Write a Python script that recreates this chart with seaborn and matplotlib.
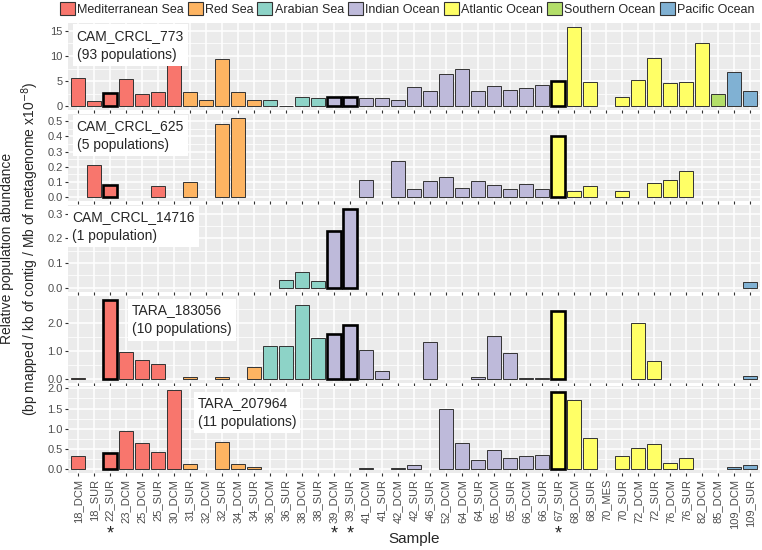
import numpy as np
import pandas as pd
import matplotlib
matplotlib.use("Agg")
import matplotlib.pyplot as plt
import matplotlib.transforms as mtransforms
from matplotlib.patches import Patch
from matplotlib.ticker import MultipleLocator, FormatStrFormatter
import seaborn as sns

# Données
samples = ['18_DCM', '18_SUR', '22_SUR', '23_DCM', '25_DCM', '25_SUR', '30_DCM',
           '31_SUR', '32_DCM', '32_SUR', '34_DCM', '34_SUR',
           '36_DCM', '36_SUR', '38_DCM', '38_SUR',
           '39_DCM', '39_SUR', '41_DCM', '41_SUR', '42_DCM', '42_SUR', '46_SUR',
           '52_DCM', '64_DCM', '64_SUR', '65_DCM', '65_SUR', '66_DCM', '66_SUR',
           '67_SUR', '68_DCM', '68_SUR', '70_MES', '70_SUR', '72_DCM', '72_SUR',
           '76_DCM', '76_SUR', '82_DCM',
           '85_DCM',
           '109_DCM', '109_SUR']
sample_region = (['Mediterranean Sea'] * 7 + ['Red Sea'] * 5 + ['Arabian Sea'] * 4
                 + ['Indian Ocean'] * 14 + ['Atlantic Ocean'] * 10
                 + ['Southern Ocean'] + ['Pacific Ocean'] * 2)
regions = ['Mediterranean Sea', 'Red Sea', 'Arabian Sea', 'Indian Ocean',
           'Atlantic Ocean', 'Southern Ocean', 'Pacific Ocean']
region_colors = ['#F8766D', '#FDB462', '#8DD3C7', '#BEBADA', '#FFFF66', '#B3DE69', '#80B1D3']
starred = ['22_SUR', '39_DCM', '39_SUR', '67_SUR']

N = None
crcl_773 = [5.7, 1.0, 2.6, 5.5, 2.5, 2.8, 8.2,
            2.8, 1.2, 9.5, 2.9, 1.3,
            1.25, 0.1, 1.9, 1.7,
            1.9, 1.9, 1.7, 1.7, 1.2, 3.75, 3.0, 6.4, 7.5, 3.0, 4.0, 3.2, 3.7, 4.2,
            5.1, 15.7, 4.9, N, 1.8, 5.2, 9.6, 4.6, 4.8, 12.6,
            2.4,
            6.9, 3.0]
crcl_625 = [N, 0.21, 0.08, N, N, 0.073, N,
            0.098, N, 0.48, 0.52, N,
            N, N, N, N,
            N, N, 0.11, N, 0.24, 0.052, 0.105, 0.135, 0.063, 0.105, 0.08, 0.05, 0.085, 0.055,
            0.40, 0.04, 0.074, N, 0.039, N, 0.092, 0.11, 0.17, N,
            N,
            N, N]
crcl_14716 = [N, N, N, N, N, N, N,
              N, N, N, N, N,
              N, 0.03, 0.065, 0.028,
              0.23, 0.32, N, N, N, N, N, N, N, N, N, N, N, N,
              N, N, N, N, N, N, N, N, N, N,
              N,
              N, 0.025]
tara_183056 = [0.03, N, 2.82, 0.94, 0.68, 0.52, N,
               0.04, N, 0.07, N, 0.40,
               1.17, 1.17, 2.64, 1.46,
               1.58, 1.92, 1.02, 0.26, N, N, 1.29, N, N, 0.07, 1.51, 0.92, 0.03, 0.03,
               2.40, N, N, N, N, 1.99, 0.62, N, N, N,
               N,
               N, 0.1]
tara_207964 = [0.33, N, 0.40, 0.94, 0.64, 0.42, 1.95,
               0.13, N, 0.68, 0.14, 0.066,
               N, N, N, N,
               N, N, 0.03, N, 0.03, 0.1, N, 1.48, 0.66, 0.22, 0.47, 0.28, 0.32, 0.36,
               1.91, 1.72, 0.78, N, 0.32, 0.53, 0.62, 0.16, 0.27, N,
               N,
               0.066, 0.1]

panel_labels = ['CAM_CRCL_773\n(93 populations)', 'CAM_CRCL_625\n(5 populations)',
                'CAM_CRCL_14716\n(1 population)', 'TARA_183056\n(10 populations)',
                'TARA_207964\n(11 populations)']
panel_values = [crcl_773, crcl_625, crcl_14716, tara_183056, tara_207964]
major_steps = [5, 0.1, 0.1, 1.0, 0.5]
tick_fmt = ['%d', '%.1f', '%.1f', '%.1f', '%.1f']
label_pos = [(0.012, 0.94), (0.012, 0.94), (0.005, 0.94), (0.092, 0.91), (0.187, 0.89)]

# Style proche de ggplot
sns.set_style('darkgrid', {'axes.facecolor': '#EBEBEB', 'grid.color': 'white'})
plt.rcParams['font.family'] = ['Liberation Sans', 'DejaVu Sans']

fig, axes = plt.subplots(5, 1, figsize=(7.62, 5.5), dpi=100, sharex=True)
fig.subplots_adjust(left=0.0898, right=0.9969, top=0.9575, bottom=0.1395, hspace=0.044)

for ax, vals, lab, step, fmt, pos in zip(axes, panel_values, panel_labels,
                                         major_steps, tick_fmt, label_pos):
    df = pd.DataFrame({'sample': samples, 'region': sample_region,
                       'value': [np.nan if v is None else v for v in vals]})
    sns.barplot(data=df, x='sample', y='value', hue='region', order=samples,
                hue_order=regions, palette=region_colors, dodge=False, width=0.9,
                saturation=1, errorbar=None, edgecolor='#333333', linewidth=0.7,
                legend=False, ax=ax)
    # contours épais pour les échantillons marqués
    for p in ax.patches:
        i = int(round(p.get_x() + p.get_width() / 2))
        if 0 <= i < len(samples) and samples[i] in starred:
            p.set_edgecolor('black')
            p.set_linewidth(1.9)
    vmax = np.nanmax(df['value'])
    ax.set_ylim(-0.05 * vmax, 1.05 * vmax)
    ax.set_xlim(-0.6, len(samples) - 0.4)
    ax.yaxis.set_major_locator(MultipleLocator(step))
    ax.yaxis.set_minor_locator(MultipleLocator(step / 2))
    ax.yaxis.set_major_formatter(FormatStrFormatter(fmt))
    ax.grid(which='major', color='white', linewidth=1.1)
    ax.grid(which='minor', axis='y', color='white', linewidth=0.55)
    ax.set_axisbelow(True)
    ax.set_xlabel('')
    ax.set_ylabel('')
    ax.tick_params(axis='y', labelsize=8, labelcolor='#4D4D4D', length=2.5,
                   color='#333333', pad=1.5, left=True)
    ax.tick_params(axis='x', labelsize=8, labelcolor='#4D4D4D', length=2.5,
                   color='#333333', pad=1.5, bottom=True)
    for s in ax.spines.values():
        s.set_visible(False)
    ax.text(pos[0], pos[1], lab, transform=ax.transAxes, ha='left', va='top',
            fontsize=10, linespacing=1.45,
            bbox=dict(boxstyle='square,pad=0.3', facecolor='white', edgecolor='none'))

axes[-1].set_xticks(range(len(samples)))
axes[-1].set_xticklabels(samples, rotation=90)

# astérisques sous les échantillons marqués
trans = mtransforms.blended_transform_factory(axes[-1].transData, axes[-1].transAxes)
for s in starred:
    axes[-1].text(samples.index(s), -0.7, '*', transform=trans, ha='center',
                  va='center', fontsize=13, clip_on=False)

fig.text(0.543, 0.02, 'Sample', ha='center', va='center', fontsize=11)
fig.text(0.027, 0.548, 'Relative population abundance\n'
         '(bp mapped / kb of contig / Mb of metagenome x10$^{-8}$)',
         ha='center', va='center', rotation=90, fontsize=10, linespacing=1.3)

handles = [Patch(facecolor=c, edgecolor='#333333', linewidth=0.8, label=r)
           for r, c in zip(regions, region_colors)]
fig.legend(handles=handles, loc='upper right', bbox_to_anchor=(1.0, 1.01), ncol=7,
           frameon=False, fontsize=9, handlelength=1.2, handleheight=1.2,
           handletextpad=0.2, columnspacing=0.3, borderaxespad=0.2)

plt.savefig('out.png', dpi=100)
